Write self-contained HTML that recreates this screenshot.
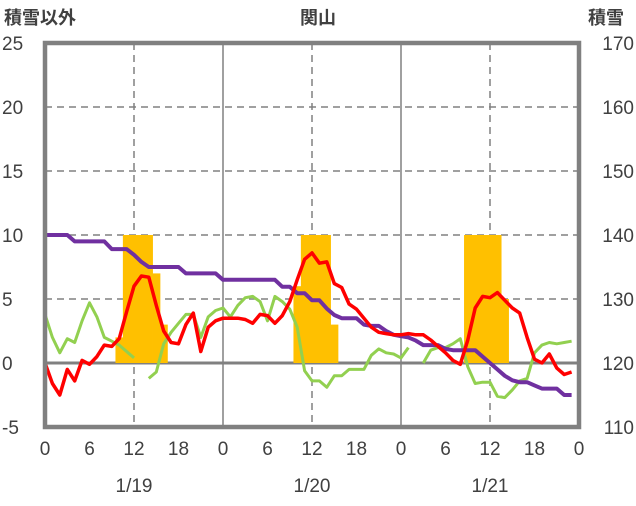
<!DOCTYPE html>
<html><head><meta charset="utf-8"><style>
body{margin:0;background:#fff;}
svg text{font-family:"Liberation Sans","Noto Sans CJK JP",sans-serif;fill:#404040;}
</style></head><body>
<svg id="chart" width="636" height="501" xmlns="http://www.w3.org/2000/svg">
<g id="grid"></g><g id="bars"></g><g id="lines"></g><g id="axes"></g>
<text x="4" y="24" font-size="18" font-weight="bold">積雪以外</text>
<text x="318" y="24" font-size="18" font-weight="bold" text-anchor="middle">関山</text>
<text x="588" y="24" font-size="18" font-weight="bold">積雪</text>
</svg>
<script>
const hours = Array.from({length:72},(_,i)=>i);
const leftTicks = [25,20,15,10,5,0,-5];
const rightTicks = [170,160,150,140,130,120,110];
const xTickLabels = ["0","6","12","18","0","6","12","18","0","6","12","18","0"];
const dayLabels = ["1/19","1/20","1/21"];
const snowfallHours = [10,11,12,13,14,15,16,34,35,36,37,38,39,57,58,59,60,61,62];
const snowfallValues = [2,10,10,10,10,7,3,6,10,10,10,10,3,10,10,10,10,10,5];
const temperature = [0,-1.6,-2.5,-0.5,-1.4,0.2,-0.1,0.5,1.4,1.3,1.9,4,6,6.8,6.7,4.5,2.5,1.6,1.5,3,3.9,0.9,2.8,3.3,
3.5,3.5,3.5,3.4,3.1,3.8,3.7,3.1,3.7,4.8,6.5,8.1,8.6,7.8,7.9,6.2,5.9,4.6,4.2,3.5,2.8,2.4,2.3,2.2,
2.2,2.3,2.2,2.2,1.8,1.3,0.8,0.2,-0.1,1.8,4.3,5.2,5.1,5.5,4.9,4.3,3.9,2,0.3,0,0.7,-0.4,-0.9,-0.7];
const otherSeries = [3.8,2,0.8,1.9,1.6,3.3,4.7,3.6,2,1.7,1.4,0.9,0.4,null,-1.2,-0.7,1.5,2.4,3.1,3.8,3.8,2,3.6,4.1,
4.3,3.6,4.5,5.1,5.2,4.8,3.3,5.2,4.8,4.2,2.8,-0.6,-1.4,-1.4,-1.9,-1,-1,-0.5,-0.5,-0.5,0.6,1.1,0.8,0.7,
0.4,1.2,null,0,1,1.2,1.2,1.5,1.9,-0.3,-1.6,-1.5,-1.5,-2.6,-2.7,-2.1,-1.4,-1.2,0.8,1.4,1.6,1.5,1.6,1.7];
const snowDepth = [140,140,140,140,139,139,139,139,139,137.8,137.8,137.8,136.9,135.8,135,135,135,135,135,134,134,134,134,134,
133,133,133,133,133,133,133,133,131.9,131.9,130.9,130.9,129.8,129.8,128.5,127.5,127,127,127,126,125.8,125.8,125,124.4,
124.2,124,123.5,122.8,122.8,122.8,122.2,122,122,122,122,121,120,119,118,117.3,117,117,116.5,116,116,116,115,115];

const X0=45,X1=579,T=43,B=427;
const xS=h=>X0+(X1-X0)*h/72;
const yL=v=>T+(25-v)*(B-T)/30;
const yR=v=>T+(170-v)*(B-T)/60;
const NS="http://www.w3.org/2000/svg";
function mk(tag,attrs,parent){const e=document.createElementNS(NS,tag);for(const k in attrs)e.setAttribute(k,attrs[k]);document.getElementById(parent).appendChild(e);return e;}

[5,10,15,20].forEach(v=>{const l=mk('line',{x1:X0,x2:X1,y1:yL(v),y2:yL(v),stroke:'#808080','stroke-width':1.5,'stroke-dasharray':'7,5'},'grid');

});
[12,36,60].forEach(h=>{const l=mk('line',{x1:xS(h),x2:xS(h),y1:T,y2:B,stroke:'#808080','stroke-width':1.5,'stroke-dasharray':'7,5'},'grid');

});
[24,48].forEach(h=>{const l=mk('line',{x1:xS(h),x2:xS(h),y1:T,y2:B,stroke:'#808080','stroke-width':1.5},'grid');

});

const bw=(X1-X0)/72;
snowfallHours.forEach((h,i)=>{const v=snowfallValues[i];
const r=mk('rect',{x:xS(h)-bw/2,y:yL(v),width:bw+0.4,height:yL(0)-yL(v),fill:'#FFC000'},'bars');

});

const z=mk('line',{x1:X0,x2:X1,y1:yL(0),y2:yL(0),stroke:'#808080','stroke-width':3},'grid');



function path(arr,ys){let d='',pen=false;arr.forEach((v,i)=>{if(v===null){pen=false;return;}d+=(pen?'L':'M')+xS(i).toFixed(1)+','+ys(v).toFixed(1);pen=true;});return d;}
const g=mk('path',{d:path(otherSeries,yL),fill:'none',stroke:'#92D050','stroke-width':3,'stroke-linejoin':'round'},'lines');


const p=mk('path',{d:path(snowDepth,yR),fill:'none',stroke:'#7030A0','stroke-width':4,'stroke-linejoin':'round'},'lines');


const r=mk('path',{d:path(temperature,yL),fill:'none',stroke:'#FF0000','stroke-width':3.5,'stroke-linejoin':'round'},'lines');



const f=mk('rect',{x:X0,y:T,width:X1-X0,height:B-T,fill:'none',stroke:'#808080','stroke-width':4.5},'axes');



leftTicks.forEach(v=>{const t=mk('text',{x:2,y:yL(v)+7,'font-size':19},'axes');t.textContent=v;

});
rightTicks.forEach(v=>{const t=mk('text',{x:634,y:yR(v)+7,'font-size':19,'text-anchor':'end'},'axes');t.textContent=v;

});
xTickLabels.forEach((s,i)=>{const t=mk('text',{x:xS(i*6),y:455,'font-size':19,'text-anchor':'middle'},'axes');t.textContent=s;

});
dayLabels.forEach((s,i)=>{const t=mk('text',{x:xS(12+24*i),y:492,'font-size':19,'text-anchor':'middle'},'axes');t.textContent=s;

});
</script>
</body></html>
